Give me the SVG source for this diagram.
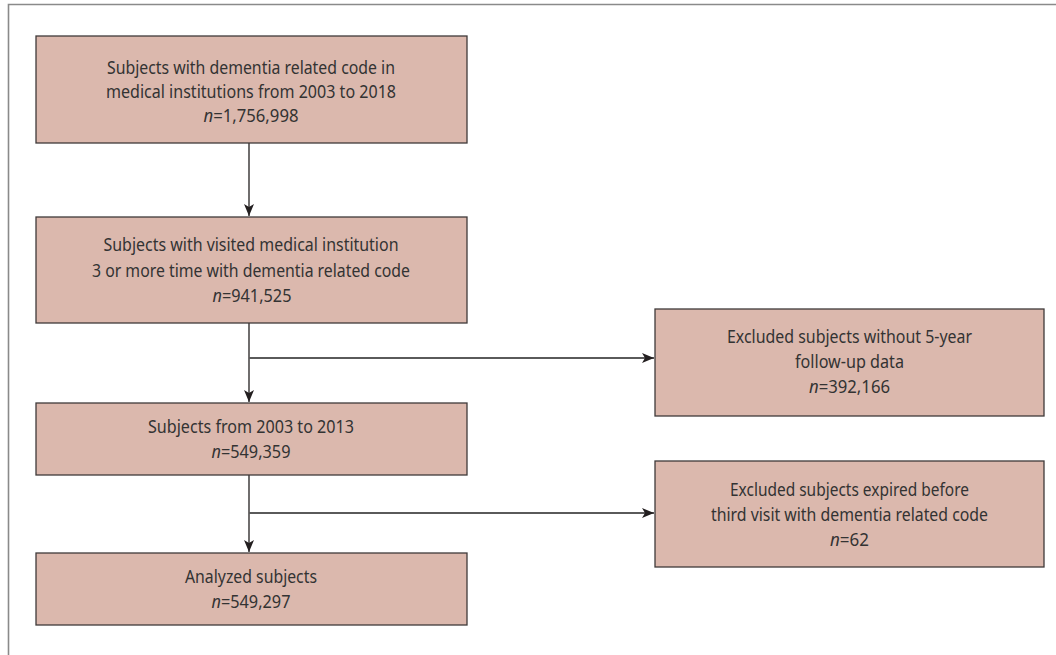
<svg xmlns="http://www.w3.org/2000/svg" width="1056" height="655" viewBox="0 0 1056 655">
<style>
.box{fill:#dbb8ad;stroke:#3f3a3a;stroke-width:1.3}
.t{font-family:"Noto Sans","Open Sans",sans-serif;font-size:18.5px;fill:#333;text-anchor:middle}
.it{font-style:italic}
.v{stroke:#231f20;stroke-width:1.3;fill:none}
.h{stroke:#5a5a5a;stroke-width:1.8;fill:none}
</style>
<defs>
<marker id="ah" viewBox="0 0 12 10" refX="12" refY="5" markerWidth="12" markerHeight="10" markerUnits="userSpaceOnUse" orient="auto">
<path d="M0,0 L12,5 L0,10 L3,5 Z" fill="#231f20"/>
</marker>
</defs>
<rect width="1056" height="655" fill="#fff"/>
<path d="M8.5,655 V4.5 H1056" fill="none" stroke="#8a8a8a" stroke-width="1.6"/>
<g id="connectors">
<line class="v" x1="249" y1="143" x2="249" y2="216" marker-end="url(#ah)"/>
<line class="v" x1="249" y1="323" x2="249" y2="402" marker-end="url(#ah)"/>
<line class="h" x1="249" y1="358" x2="654" y2="358" marker-end="url(#ah)"/>
<line class="v" x1="249" y1="475" x2="249" y2="552" marker-end="url(#ah)"/>
<line class="h" x1="249" y1="513" x2="654" y2="513" marker-end="url(#ah)"/>
</g>
<g id="n1">
<rect class="box" x="36" y="36" width="431" height="107"/>
<text class="t" x="251" y="74" textLength="288" lengthAdjust="spacingAndGlyphs">Subjects with dementia related code in</text>
<text class="t" x="251" y="98" textLength="290" lengthAdjust="spacingAndGlyphs">medical institutions from 2003 to 2018</text>
<text class="t" x="251" y="122" textLength="95" lengthAdjust="spacingAndGlyphs"><tspan class="it">n</tspan>=1,756,998</text>
</g>
<g id="n2">
<rect class="box" x="36" y="217" width="431" height="106"/>
<text class="t" x="251" y="251" textLength="295" lengthAdjust="spacingAndGlyphs">Subjects with visited medical institution</text>
<text class="t" x="251" y="277" textLength="318" lengthAdjust="spacingAndGlyphs">3 or more time with dementia related code</text>
<text class="t" x="252" y="302" textLength="79" lengthAdjust="spacingAndGlyphs"><tspan class="it">n</tspan>=941,525</text>
</g>
<g id="n3">
<rect class="box" x="36" y="403" width="431" height="72"/>
<text class="t" x="251" y="433" textLength="206" lengthAdjust="spacingAndGlyphs">Subjects from 2003 to 2013</text>
<text class="t" x="251" y="458" textLength="79" lengthAdjust="spacingAndGlyphs"><tspan class="it">n</tspan>=549,359</text>
</g>
<g id="n4">
<rect class="box" x="36" y="553" width="431" height="72"/>
<text class="t" x="251" y="583" textLength="132" lengthAdjust="spacingAndGlyphs">Analyzed subjects</text>
<text class="t" x="251" y="608" textLength="79" lengthAdjust="spacingAndGlyphs"><tspan class="it">n</tspan>=549,297</text>
</g>
<g id="e1">
<rect class="box" x="655" y="309" width="389" height="107"/>
<text class="t" x="849.5" y="343" textLength="245" lengthAdjust="spacingAndGlyphs">Excluded subjects without 5-year</text>
<text class="t" x="849.5" y="368" textLength="109" lengthAdjust="spacingAndGlyphs">follow-up data</text>
<text class="t" x="849.5" y="393" textLength="81" lengthAdjust="spacingAndGlyphs"><tspan class="it">n</tspan>=392,166</text>
</g>
<g id="e2">
<rect class="box" x="655" y="461" width="389" height="106"/>
<text class="t" x="849.5" y="496" textLength="239" lengthAdjust="spacingAndGlyphs">Excluded subjects expired before</text>
<text class="t" x="849.5" y="521" textLength="277" lengthAdjust="spacingAndGlyphs">third visit with dementia related code</text>
<text class="t" x="849.5" y="546" textLength="39" lengthAdjust="spacingAndGlyphs"><tspan class="it">n</tspan>=62</text>
</g>
</svg>
